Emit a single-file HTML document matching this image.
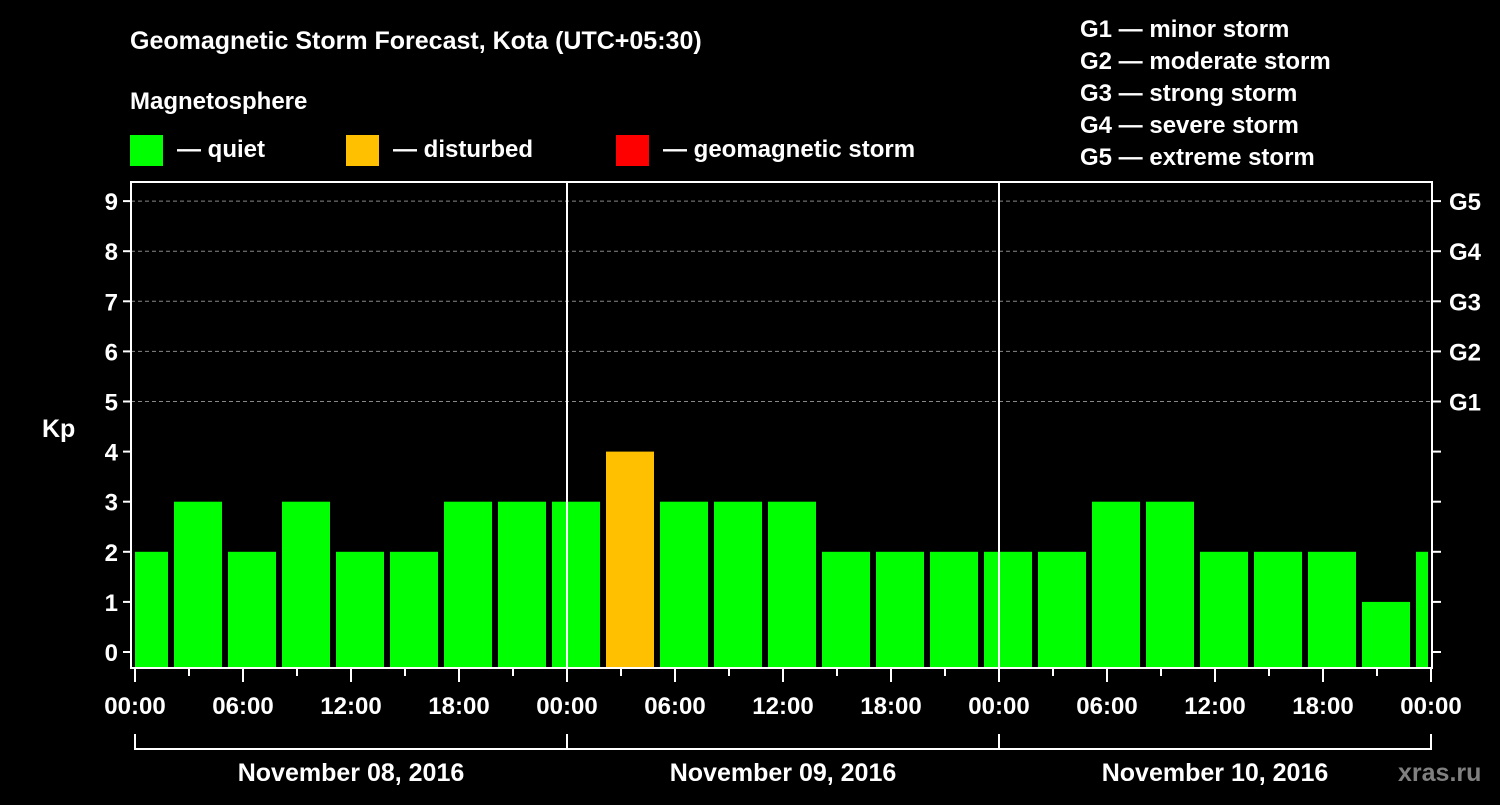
<!DOCTYPE html>
<html><head><meta charset="utf-8"><style>
body{margin:0;background:#000;}
text{font-family:"Liberation Sans",sans-serif;font-weight:bold;fill:#fff;}
</style></head><body>
<svg id="c" width="1500" height="800" xmlns="http://www.w3.org/2000/svg">
<text x="130" y="49" font-size="25">Geomagnetic Storm Forecast, Kota (UTC+05:30)</text>
<text x="130" y="109" font-size="24">Magnetosphere</text>
<g>
<rect x="130" y="135" width="33" height="31" fill="#00ff00"/>
<text x="177" y="157" font-size="24">— quiet</text>
<rect x="346" y="135" width="33" height="31" fill="#ffc000"/>
<text x="393" y="157" font-size="24">— disturbed</text>
<rect x="616" y="135" width="33" height="31" fill="#ff0000"/>
<text x="663" y="157" font-size="24">— geomagnetic storm</text>
</g>
<g font-size="24">
<text x="1080" y="37">G1 — minor storm</text>
<text x="1080" y="69">G2 — moderate storm</text>
<text x="1080" y="101">G3 — strong storm</text>
<text x="1080" y="133">G4 — severe storm</text>
<text x="1080" y="165">G5 — extreme storm</text>
</g>
<text x="42" y="437" font-size="25">Kp</text>
<g id="plot"></g>
<text x="1398" y="781" font-size="25" style="fill:#808080">xras.ru</text>
</svg>
<script>
const kpValues=[2,3,2,3,2,2,3,3,3,4,3,3,3,2,2,2,2,2,3,3,2,2,2,1,2];
const yTicks=[0,1,2,3,4,5,6,7,8,9];
const gLabels=["G1","G2","G3","G4","G5"];
const xTickLabels=["00:00","06:00","12:00","18:00","00:00","06:00","12:00","18:00","00:00","06:00","12:00","18:00","00:00"];
const dayLabels=["November 08, 2016","November 09, 2016","November 10, 2016"];
const NS="http://www.w3.org/2000/svg";
const g=document.getElementById('plot');
const X0=135,PXH=18,L=131,R=1432,T=182,B=668,CLIPR=1428;
const x=h=>X0+h*PXH;
const y=v=>652-v*50.1;
function mk(t,a){const e=document.createElementNS(NS,t);for(const k in a)e.setAttribute(k,a[k]);g.appendChild(e);return e;}
yTicks.forEach(v=>{if(v>=5){const l=mk('line',{x1:L,x2:R,y1:y(v),y2:y(v),stroke:'#888','stroke-dasharray':'4,3','stroke-width':1});

}});
kpValues.forEach((v,i)=>{const c=0.5+3*i;let x1=Math.max(x(c)-24,X0),x2=Math.min(x(c)+24,CLIPR);
const r=mk('rect',{x:x1,y:y(v),width:x2-x1,height:B-y(v),fill:v>=5?'#ff0000':v>=4?'#ffc000':'#00ff00'});

});
[1,2].forEach(d=>{const l=mk('line',{x1:x(24*d),x2:x(24*d),y1:T,y2:B,stroke:'#fff','stroke-width':2});

});
const box=mk('rect',{x:L,y:T,width:R-L,height:B-T,fill:'none',stroke:'#fff','stroke-width':2});


yTicks.forEach(v=>{
mk('line',{x1:L-8,x2:L,y1:y(v),y2:y(v),stroke:'#fff','stroke-width':2});
mk('line',{x1:R,x2:R+9,y1:y(v),y2:y(v),stroke:'#fff','stroke-width':2});
const t=mk('text',{x:118,y:y(v)+9,'font-size':24,'text-anchor':'end'});t.textContent=v;


if(v>=5){const gt=mk('text',{x:1449,y:y(v)+9,'font-size':24});gt.textContent=gLabels[v-5];

}});
for(let h=0;h<=72;h+=3){mk('line',{x1:x(h),x2:x(h),y1:B,y2:B+(h%6===0?14:8),stroke:'#fff','stroke-width':2});}
xTickLabels.forEach((s,i)=>{const t=mk('text',{x:x(i*6),y:714,'font-size':24,'text-anchor':'middle'});t.textContent=s;

});
const br=mk('path',{d:`M${x(0)},734V749H${x(72)}V734M${x(24)},734V749M${x(48)},734V749`,fill:'none',stroke:'#fff','stroke-width':2});


dayLabels.forEach((s,i)=>{const t=mk('text',{x:x(24*i+12),y:781,'font-size':25,'text-anchor':'middle'});t.textContent=s;

});
</script>
</body></html>
